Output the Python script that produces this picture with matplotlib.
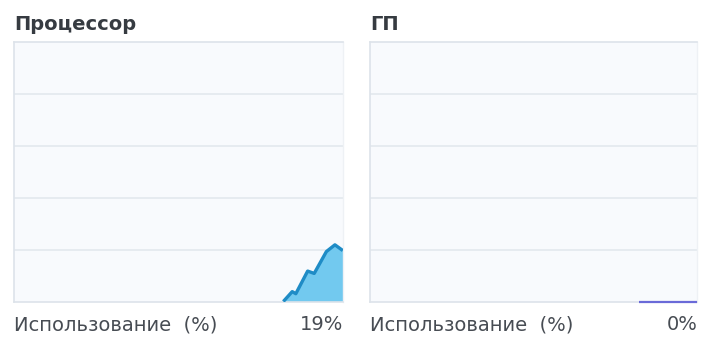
import matplotlib
matplotlib.use("Agg")
import matplotlib.pyplot as plt

# ---- data ----
cpu_title = "Процессор"
gpu_title = "ГП"
usage_label = "Использование  (%)"

cpu_time = [81.9, 84.6, 85.7, 89.3, 91.3, 95.0, 97.6, 100.0]
cpu_usage = [0.0, 3.8, 3.0, 11.7, 10.8, 19.2, 21.8, 19.6]
cpu_current = "19%"

gpu_time = [82.3, 100.0]
gpu_usage = [0.0, 0.0]
gpu_current = "0%"

y_ticks = [0, 20, 40, 60, 80, 100]

# ---- style ----
W, H = 716, 344
fig = plt.figure(figsize=(W / 100, H / 100), dpi=100)
fig.patch.set_facecolor("white")

bg = "#f8fafd"
grid_c = "#e3e8ee"
text_c = "#363b41"
label_c = "#474c53"


def make_ax(x0, x1, title, times, values, current, line_c, fill_c, lw, fill):
    top, bottom = 41.5, 301.5
    ax = fig.add_axes([x0 / W, (H - bottom) / H, (x1 - x0) / W, (bottom - top) / H])
    ax.set_facecolor(bg)
    ax.set_xlim(0, 100)
    ax.set_ylim(0, 100)
    ax.set_xticks([])
    ax.set_yticks([])
    for y in y_ticks[1:-1]:
        ax.axhline(y, color=grid_c, lw=1.2, zorder=1)
    for s in ["left", "top", "bottom"]:
        ax.spines[s].set_color("#dde3ea")
        ax.spines[s].set_linewidth(1.2)
    ax.spines["right"].set_color("#eef1f5")
    ax.spines["right"].set_linewidth(1.0)
    if fill:
        ax.fill_between(times, values, 0, color=fill_c, lw=0, zorder=2)
    line, = ax.plot(times, values, color=line_c, lw=lw, zorder=3,
                    solid_joinstyle="round", solid_capstyle="butt")
    if not fill:
        line.set_clip_on(False)
    fig.text(x0 / W, 1 - 24 / H, title, fontsize=14, fontweight="bold",
             color=text_c, va="center", ha="left", family="DejaVu Sans")
    fig.text(x0 / W, 1 - 325 / H, usage_label, fontsize=14, color=label_c,
             va="center", ha="left", family="DejaVu Sans")
    fig.text(x1 / W, 1 - 325 / H, current, fontsize=14, color=label_c,
             va="center", ha="right", family="DejaVu Sans")
    return ax


make_ax(14.3, 342.8, cpu_title, cpu_time, cpu_usage, cpu_current,
        "#1f8cc6", "#72c9ef", 2.4, True)
make_ax(370.3, 697.3, gpu_title, gpu_time, gpu_usage, gpu_current,
        "#6a6ad8", None, 1.6, False)

fig.savefig("out.png", dpi=100, facecolor="white")
